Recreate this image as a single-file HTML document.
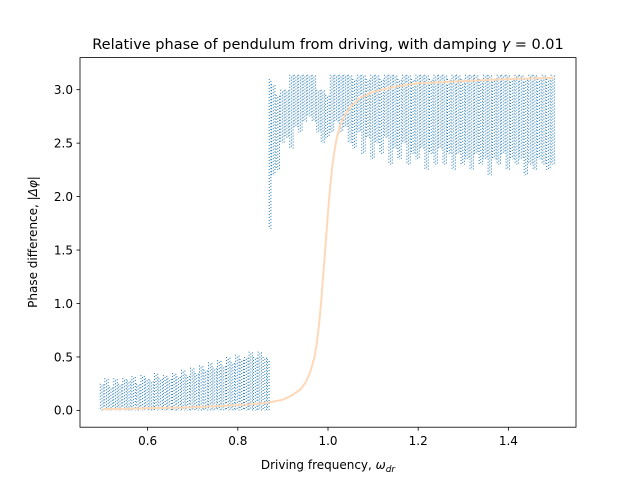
<!DOCTYPE html>
<html><head><meta charset="utf-8"><style>
body{margin:0;background:#fff}
svg{display:block;font-family:"DejaVu Sans","Liberation Sans",sans-serif}
</style></head><body>
<svg id="chart" width="640" height="480" viewBox="0 0 640 480">
<rect width="640" height="480" fill="#fff"/>
<g id="marks"></g>
<rect x="80" y="57.6" width="496" height="369.6" fill="none" stroke="#000" stroke-width="0.8"/>
<g id="axes"></g>
<text x="328" y="49" text-anchor="middle" font-size="14.5">Relative phase of pendulum from driving, with damping <tspan font-style="italic">γ</tspan> = 0.01</text>
<text x="328" y="469" text-anchor="middle" font-size="12">Driving frequency, <tspan font-style="italic">ω</tspan><tspan font-style="italic" font-size="9" dy="3">dr</tspan></text>
<text transform="translate(37,242) rotate(-90)" text-anchor="middle" font-size="12">Phase difference, |<tspan font-style="italic">Δφ</tspan>|</text>
</svg>
<script>
const binFreqs=[0.50,0.51,0.52,0.53,0.54,0.55,0.56,0.57,0.58,0.59,0.60,0.61,0.62,0.63,0.64,0.65,0.66,0.67,0.68,0.69,0.70,0.71,0.72,0.73,0.74,0.75,0.76,0.77,0.78,0.79,0.80,0.81,0.82,0.83,0.84,0.85,0.86,0.868,0.873,0.88,0.89,0.90,0.91,0.92,0.93,0.94,0.95,0.96,0.97,0.98,0.99,1.00,1.01,1.02,1.03,1.04,1.05,1.06,1.07,1.08,1.09,1.10,1.11,1.12,1.13,1.14,1.15,1.16,1.17,1.18,1.19,1.20,1.21,1.22,1.23,1.24,1.25,1.26,1.27,1.28,1.29,1.30,1.31,1.32,1.33,1.34,1.35,1.36,1.37,1.38,1.39,1.40,1.41,1.42,1.43,1.44,1.45,1.46,1.47,1.48,1.49,1.50];
const binLow=[0,0,0,0,0,0,0,0,0,0,0,0,0,0,0,0,0,0,0,0,0,0,0,0,0,0,0,0,0,0,0,0,0,0,0,0,0,0,1.7,2.2,2.25,2.5,2.55,2.45,2.65,2.6,2.7,2.75,2.7,2.6,2.5,2.55,2.6,2.7,2.6,2.65,2.5,2.45,2.6,2.4,2.55,2.35,2.5,2.4,2.55,2.3,2.45,2.35,2.5,2.3,2.4,2.35,2.45,2.25,2.4,2.3,2.45,2.3,2.4,2.25,2.4,2.3,2.35,2.25,2.4,2.3,2.35,2.2,2.35,2.3,2.4,2.25,2.35,2.3,2.35,2.2,2.3,2.25,2.35,2.3,2.25,2.3];
const binHigh=[0.25,0.3,0.22,0.3,0.25,0.3,0.28,0.32,0.25,0.33,0.3,0.28,0.35,0.3,0.33,0.3,0.35,0.32,0.38,0.33,0.4,0.35,0.42,0.38,0.45,0.4,0.47,0.42,0.5,0.45,0.52,0.48,0.5,0.55,0.5,0.55,0.5,0.48,3.1,3.05,2.95,3.0,3.0,3.14,3.14,3.14,3.14,3.14,3.14,3.0,3.0,2.95,3.14,3.14,3.14,3.14,3.14,3.1,3.14,3.14,3.1,3.14,3.14,3.1,3.14,3.14,3.14,3.1,3.14,3.14,3.1,3.14,3.14,3.14,3.1,3.14,3.14,3.14,3.1,3.14,3.14,3.1,3.14,3.14,3.14,3.1,3.14,3.14,3.1,3.14,3.14,3.14,3.1,3.14,3.14,3.1,3.14,3.14,3.1,3.14,3.1,3.14];
const theoryFreqs=[0.50,0.60,0.70,0.80,0.85,0.87,0.90,0.92,0.94,0.95,0.96,0.97,0.975,0.98,0.985,0.99,0.995,1.00,1.005,1.01,1.015,1.02,1.03,1.04,1.05,1.07,1.1,1.15,1.2,1.3,1.4,1.5];
const theoryPhase=[0.01,0.02,0.03,0.05,0.065,0.075,0.1,0.14,0.2,0.26,0.35,0.5,0.62,0.8,1.02,1.3,1.57,1.85,2.1,2.3,2.45,2.56,2.7,2.78,2.84,2.92,2.98,3.03,3.06,3.08,3.1,3.11];
const xTicks=[0.6,0.8,1.0,1.2,1.4];
const xTickLabels=["0.6","0.8","1.0","1.2","1.4"];
const yTicks=[0,0.5,1,1.5,2,2.5,3];
const yTickLabels=["0.0","0.5","1.0","1.5","2.0","2.5","3.0"];

const NS="http://www.w3.org/2000/svg";
const X=f=>80+(f-0.45)/1.1*496;
const Y=v=>427.2-(v+0.157)/3.457*369.6;
const marks=document.getElementById('marks');
const axes=document.getElementById('axes');
function mk(tag,attrs,parent){const e=document.createElementNS(NS,tag);for(const k in attrs)e.setAttribute(k,attrs[k]);parent.appendChild(e);return e;}

binFreqs.forEach((f,i)=>{
  const half=(i<binFreqs.length-1?Math.min(binFreqs[i+1]-f,0.01):0.01)/2;
  const x0=X(f-half),x1=X(f+half);
  const g=mk('g',{},marks);
  
  
  let k=0;
  for(let x=x0;x<=x1;x+=1.7,k++){
    mk('line',{x1:x.toFixed(1),x2:x.toFixed(1),y1:Y(binHigh[i]).toFixed(1),y2:Y(binLow[i]).toFixed(1),stroke:'#1f77b4','stroke-width':1,'stroke-dasharray':'1 2','stroke-dashoffset':(k*1.1)%3},g);
  }
});
const pts=theoryFreqs.map((f,i)=>X(f).toFixed(1)+','+Y(theoryPhase[i]).toFixed(1)).join(' ');
const pl=mk('polyline',{points:pts,fill:'none',stroke:'#ffd8b8','stroke-width':2,'stroke-linejoin':'round'},marks);



xTicks.forEach((t,i)=>{
  const x=X(t);
  const l=mk('line',{x1:x,x2:x,y1:427.2,y2:430.7,stroke:'#000','stroke-width':0.8},axes);
  
  
  const tx=mk('text',{x:x,y:445,'text-anchor':'middle','font-size':12},axes);
  tx.textContent=xTickLabels[i];
  
  
});
yTicks.forEach((t,i)=>{
  const y=Y(t);
  const l=mk('line',{x1:76.5,x2:80,y1:y,y2:y,stroke:'#000','stroke-width':0.8},axes);
  
  
  const tx=mk('text',{x:73,y:y+4.3,'text-anchor':'end','font-size':12},axes);
  tx.textContent=yTickLabels[i];
  
  
});
</script>
</body></html>
